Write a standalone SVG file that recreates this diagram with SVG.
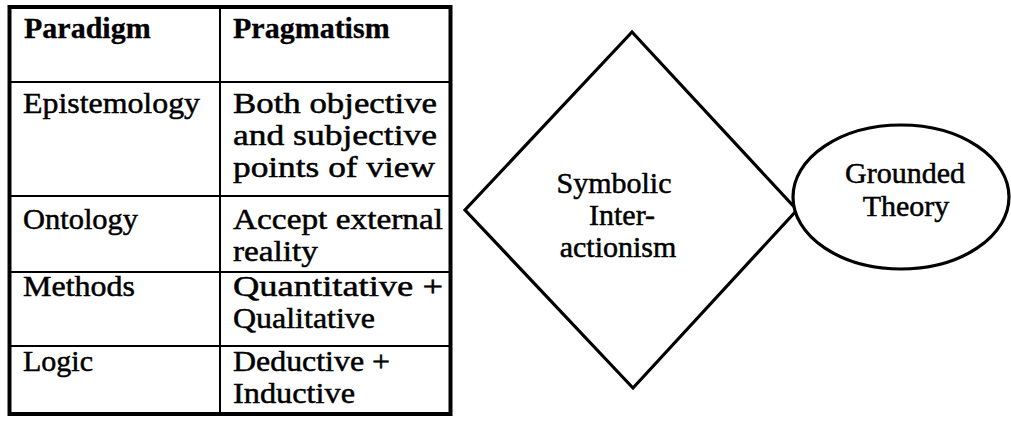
<svg xmlns="http://www.w3.org/2000/svg" width="1011" height="421" viewBox="0 0 1011 421">
<style>
text{font-family:"Liberation Serif","Times New Roman",serif;fill:#000;stroke:#000;stroke-width:0.5px}
.h{font-weight:bold;font-size:30px;stroke-width:0.3px}
.l{font-size:30px}
.r{font-size:30px}
.c{font-size:30px;text-anchor:middle}
.outer{fill:none;stroke:#000;stroke-width:4}
.grid{stroke:#000;stroke-width:2}
.shape{fill:#fff;stroke:#000;stroke-width:3.2}
</style>
<rect width="1011" height="421" fill="#fff"/>
<g id="table">
<rect class="outer" x="9.5" y="7" width="441" height="407"/>
<line class="grid" x1="220" y1="7" x2="220" y2="414"/>
<line class="grid" x1="9.5" y1="82" x2="450.5" y2="82"/>
<line class="grid" x1="9.5" y1="196" x2="450.5" y2="196"/>
<line class="grid" x1="9.5" y1="272" x2="450.5" y2="272"/>
<line class="grid" x1="9.5" y1="346" x2="450.5" y2="346"/>
<text class="h" x="24" y="38">Paradigm</text>
<text class="h" x="233" y="38">Pragmatism</text>
<text class="l" x="23" y="113" textLength="177" lengthAdjust="spacingAndGlyphs">Epistemology</text>
<text class="r" x="233" y="113" textLength="204" lengthAdjust="spacingAndGlyphs">Both objective</text>
<text class="r" x="233" y="145" textLength="204" lengthAdjust="spacingAndGlyphs">and subjective</text>
<text class="r" x="233" y="177" textLength="202" lengthAdjust="spacingAndGlyphs">points of view</text>
<text class="l" x="23" y="229" textLength="115" lengthAdjust="spacingAndGlyphs">Ontology</text>
<text class="r" x="233" y="229" textLength="210" lengthAdjust="spacingAndGlyphs">Accept external</text>
<text class="r" x="233" y="261" textLength="85" lengthAdjust="spacingAndGlyphs">reality</text>
<text class="l" x="23" y="296" textLength="112" lengthAdjust="spacingAndGlyphs">Methods</text>
<text class="r" x="233" y="296" textLength="210" lengthAdjust="spacingAndGlyphs">Quantitative +</text>
<text class="r" x="233" y="328" textLength="142" lengthAdjust="spacingAndGlyphs">Qualitative</text>
<text class="l" x="23" y="371" textLength="70" lengthAdjust="spacingAndGlyphs">Logic</text>
<text class="r" x="233" y="371" textLength="157" lengthAdjust="spacingAndGlyphs">Deductive +</text>
<text class="r" x="233" y="403" textLength="122" lengthAdjust="spacingAndGlyphs">Inductive</text>
</g>
<g id="connectors"/>
<g id="symbolic-interactionism">
<polygon class="shape" points="632,32 797,210 633,388 465,210"/>
<text class="c" x="614" y="193">Symbolic</text>
<text class="c" x="622" y="225">Inter-</text>
<text class="c" x="618" y="257">actionism</text>
</g>
<g id="grounded-theory">
<ellipse class="shape" cx="901" cy="197" rx="108" ry="72"/>
<text class="c" x="905" y="183">Grounded</text>
<text class="c" x="906" y="216">Theory</text>
</g>
</svg>
